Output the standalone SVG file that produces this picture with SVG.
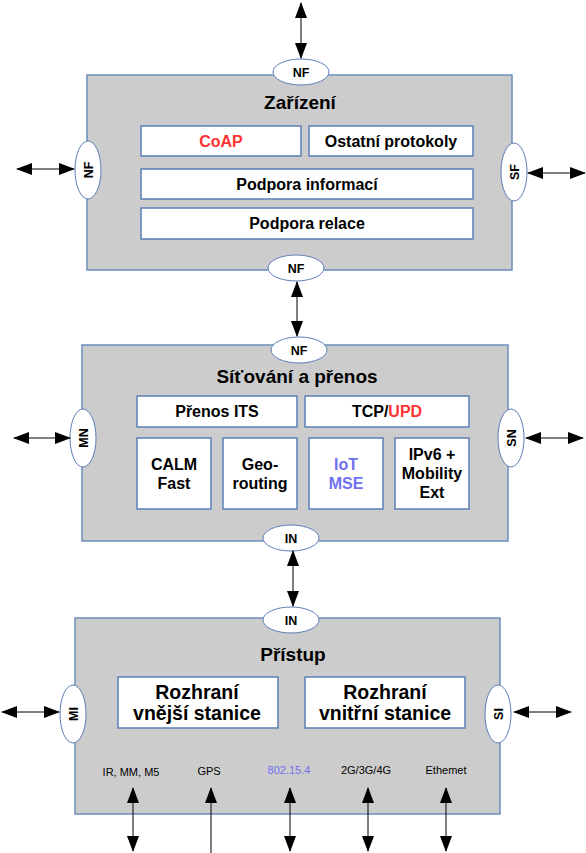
<svg xmlns="http://www.w3.org/2000/svg" width="586" height="853" viewBox="0 0 586 853">
<defs>
<marker id="ae" viewBox="0 0 16 12" refX="15" refY="6" markerWidth="16" markerHeight="12" markerUnits="userSpaceOnUse" orient="auto">
<path d="M0,0 L16,6 L0,12 z" fill="#000"/>
</marker>
<style>
.layer{fill:#cccccc;stroke:#6c8ebf;stroke-width:1.5}
.inner{fill:#fff;stroke:#5b7fb5;stroke-width:1.5}
.port{fill:#fff;stroke:#5b7fb5;stroke-width:1}
.t{font-family:"Liberation Sans",Arial,sans-serif;font-weight:bold;fill:#000;text-anchor:middle}
.title{font-size:19px}
.lbl{font-size:16px}
.big{font-size:19.5px}
.pl{font-size:12.5px}
.sm{font-size:11px;font-weight:normal}
.conn{stroke:#000;stroke-width:1;fill:none}
.red{fill:#ff3333}
.pur{fill:#7070f0}
</style>
</defs>

<g id="zarizeni">
<rect class="layer" x="87" y="75" width="425" height="195"/>
<text class="t title" x="300" y="109">Zařízení</text>
<rect class="inner" x="141" y="126" width="160" height="30"/>
<text class="t lbl red" x="221" y="147">CoAP</text>
<rect class="inner" x="309" y="126" width="164" height="30"/>
<text class="t lbl" x="391" y="147">Ostatní protokoly</text>
<rect class="inner" x="141" y="169" width="332" height="30"/>
<text class="t lbl" x="307" y="190">Podpora informací</text>
<rect class="inner" x="141" y="208" width="332" height="31"/>
<text class="t lbl" x="307" y="229">Podpora relace</text>
</g>
<g id="port-nf-top"><ellipse class="port" cx="301" cy="72" rx="28" ry="13"/><text class="t pl" x="301" y="77">NF</text></g>
<g id="port-nf-left"><ellipse class="port" cx="88" cy="170" rx="13" ry="29"/><text class="t pl" transform="translate(92.5,170) rotate(-90)" x="0" y="0">NF</text></g>
<g id="port-sf-right"><ellipse class="port" cx="514" cy="172" rx="13" ry="29"/><text class="t pl" transform="translate(518.5,172) rotate(-90)" x="0" y="0">SF</text></g>
<g id="port-nf-bottom"><ellipse class="port" cx="296" cy="268" rx="28" ry="13"/><text class="t pl" x="296" y="273">NF</text></g>

<g id="sitovani">
<rect class="layer" x="82" y="345" width="426" height="196"/>
<text class="t title" x="297" y="383">Síťování a přenos</text>
<rect class="inner" x="137" y="396" width="160" height="31"/>
<text class="t lbl" x="217" y="417">Přenos ITS</text>
<rect class="inner" x="305" y="396" width="164" height="31"/>
<text class="t lbl" x="387" y="417">TCP/<tspan class="red">UPD</tspan></text>
<rect class="inner" x="137" y="438" width="74" height="71"/>
<text class="t lbl" x="174" y="470">CALM</text>
<text class="t lbl" x="174" y="489">Fast</text>
<rect class="inner" x="223" y="438" width="74" height="71"/>
<text class="t lbl" x="260" y="470">Geo-</text>
<text class="t lbl" x="260" y="489">routing</text>
<rect class="inner" x="309" y="438" width="74" height="71"/>
<text class="t lbl pur" x="346" y="470">IoT</text>
<text class="t lbl pur" x="346" y="489">MSE</text>
<rect class="inner" x="395" y="438" width="74" height="71"/>
<text class="t lbl" x="432" y="460">IPv6 +</text>
<text class="t lbl" x="432" y="479">Mobility</text>
<text class="t lbl" x="432" y="498">Ext</text>
</g>
<g id="port-nf-net"><ellipse class="port" cx="299" cy="350" rx="28" ry="13"/><text class="t pl" x="299" y="355">NF</text></g>
<g id="port-mn"><ellipse class="port" cx="83" cy="438" rx="13" ry="29"/><text class="t pl" transform="translate(87.5,438) rotate(-90)" x="0" y="0">MN</text></g>
<g id="port-sn"><ellipse class="port" cx="511" cy="438" rx="13" ry="29"/><text class="t pl" transform="translate(515.5,438) rotate(-90)" x="0" y="0">SN</text></g>
<g id="port-in-net"><ellipse class="port" cx="291" cy="538" rx="28" ry="13"/><text class="t pl" x="291" y="543">IN</text></g>

<g id="pristup">
<rect class="layer" x="75" y="618" width="425" height="196"/>
<text class="t title" x="293" y="661">Přístup</text>
<rect class="inner" x="118" y="677" width="160" height="51"/>
<text class="t big" x="197" y="699">Rozhraní</text>
<text class="t big" x="197" y="720">vnější stanice</text>
<rect class="inner" x="305" y="677" width="160" height="51"/>
<text class="t big" x="385" y="699">Rozhraní</text>
<text class="t big" x="385" y="720">vnitřní stanice</text>
<text class="t sm" x="131" y="776">IR, MM, M5</text>
<text class="t sm" x="209" y="775">GPS</text>
<text class="t sm pur" x="289" y="774">802.15.4</text>
<text class="t sm" x="366" y="774">2G/3G/4G</text>
<text class="t sm" x="446" y="774">Ethemet</text>
</g>
<g id="port-in-acc"><ellipse class="port" cx="291" cy="620" rx="28" ry="13"/><text class="t pl" x="291" y="625">IN</text></g>
<g id="port-mi"><ellipse class="port" cx="73" cy="714" rx="13" ry="29"/><text class="t pl" transform="translate(77.5,714) rotate(-90)" x="0" y="0">MI</text></g>
<g id="port-si"><ellipse class="port" cx="498" cy="714" rx="13" ry="29"/><text class="t pl" transform="translate(502.5,714) rotate(-90)" x="0" y="0">SI</text></g>

<g id="connectors">
<line class="conn" x1="301" y1="30" x2="301" y2="3" marker-end="url(#ae)"/>
<line class="conn" x1="301" y1="30" x2="301" y2="58" marker-end="url(#ae)"/>
<line class="conn" x1="45" y1="169" x2="17" y2="169" marker-end="url(#ae)"/>
<line class="conn" x1="45" y1="169" x2="74" y2="169" marker-end="url(#ae)"/>
<line class="conn" x1="556" y1="173" x2="528" y2="173" marker-end="url(#ae)"/>
<line class="conn" x1="556" y1="173" x2="585" y2="173" marker-end="url(#ae)"/>
<line class="conn" x1="297" y1="309" x2="297" y2="282" marker-end="url(#ae)"/>
<line class="conn" x1="297" y1="309" x2="297" y2="336" marker-end="url(#ae)"/>
<line class="conn" x1="42" y1="438" x2="14" y2="438" marker-end="url(#ae)"/>
<line class="conn" x1="42" y1="438" x2="70" y2="438" marker-end="url(#ae)"/>
<line class="conn" x1="554" y1="438" x2="526" y2="438" marker-end="url(#ae)"/>
<line class="conn" x1="554" y1="438" x2="583" y2="438" marker-end="url(#ae)"/>
<line class="conn" x1="293" y1="578" x2="293" y2="551" marker-end="url(#ae)"/>
<line class="conn" x1="293" y1="578" x2="293" y2="606" marker-end="url(#ae)"/>
<line class="conn" x1="30" y1="712" x2="2" y2="712" marker-end="url(#ae)"/>
<line class="conn" x1="30" y1="712" x2="59" y2="712" marker-end="url(#ae)"/>
<line class="conn" x1="542" y1="712" x2="514" y2="712" marker-end="url(#ae)"/>
<line class="conn" x1="542" y1="712" x2="571" y2="712" marker-end="url(#ae)"/>
<line class="conn" x1="133" y1="820" x2="133" y2="788" marker-end="url(#ae)"/>
<line class="conn" x1="133" y1="820" x2="133" y2="851" marker-end="url(#ae)"/>
<line class="conn" x1="211" y1="853" x2="211" y2="788" marker-end="url(#ae)"/>
<line class="conn" x1="290" y1="820" x2="290" y2="788" marker-end="url(#ae)"/>
<line class="conn" x1="290" y1="820" x2="290" y2="851" marker-end="url(#ae)"/>
<line class="conn" x1="368" y1="820" x2="368" y2="788" marker-end="url(#ae)"/>
<line class="conn" x1="368" y1="820" x2="368" y2="851" marker-end="url(#ae)"/>
<line class="conn" x1="446" y1="820" x2="446" y2="788" marker-end="url(#ae)"/>
<line class="conn" x1="446" y1="820" x2="446" y2="851" marker-end="url(#ae)"/>
</g>
</svg>
